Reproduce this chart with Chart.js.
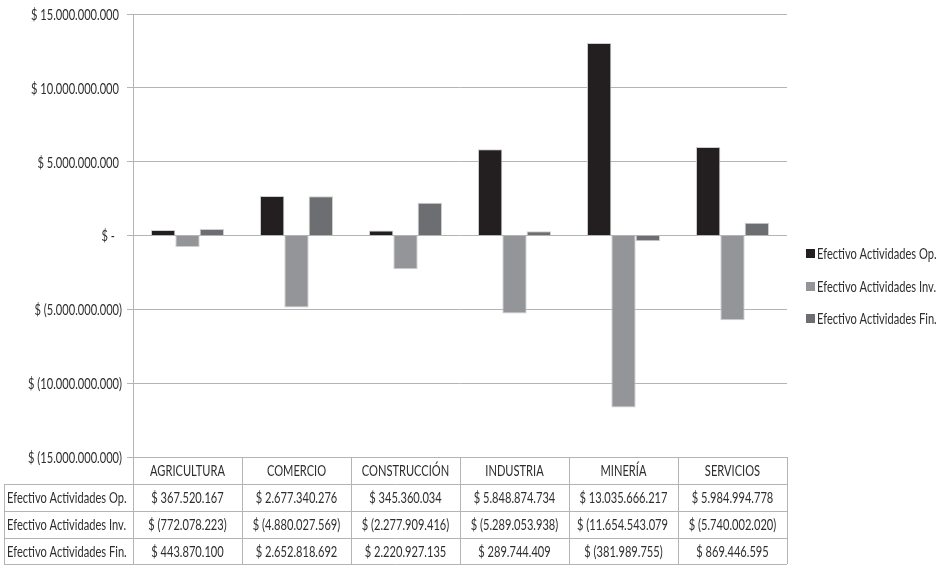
<!DOCTYPE html>
<html>
<head>
<meta charset="utf-8">
<script src="https://cdn.jsdelivr.net/npm/chart.js@4"></script>
<style>
  html, body { margin: 0; padding: 0; background: #fff; }
  #wrap { width: 942px; height: 565px; }
</style>
</head>
<body>
<div id="wrap"><canvas id="myChart" width="942" height="565"></canvas></div>
<script>
const sectors = ['AGRICULTURA', 'COMERCIO', 'CONSTRUCCIÓN', 'INDUSTRIA', 'MINERÍA', 'SERVICIOS'];
const seriesNames = ['Efectivo Actividades Op.', 'Efectivo Actividades Inv.', 'Efectivo Actividades Fin.'];
const opValues = [367520167, 2677340276, 345360034, 5848874734, 13035666217, 5984994778];
const invValues = [-772078223, -4880027569, -2277909416, -5289053938, -11654543079, -5740002020];
const finValues = [443870100, 2652818692, 2220927135, 289744409, -381989755, 869446595];
const yTicks = [-15000000000, -10000000000, -5000000000, 0, 5000000000, 10000000000, 15000000000];

const colors = ['#231f20', '#939598', '#6d6e71'];
const FONT = '15px Lato, "Open Sans", sans-serif';
const textColor = '#2e2e2e';
const lineColor = '#b4b4b4';

// money in the sheet's style: dots for thousands, negatives in brackets
function money(v) {
    if (v === 0) return '$ -';
    const s = Math.abs(v).toString().replace(/\B(?=(\d{3})+(?!\d))/g, '.');
    return v < 0 ? '$ (' + s + ')' : '$ ' + s;
}

// narrow text: squeeze the face horizontally
let squeeze = 1;
function text(ctx, str, x, y, align) {
    ctx.save();
    ctx.translate(x, y);
    ctx.scale(squeeze, 1);
    ctx.textAlign = align;
    ctx.fillText(str, 0, 0);
    ctx.restore();
}

// y labels, data table under the plot and the legend on the right
const tablePlugin = {
    id: 'dataTable',
    afterDraw(chart) {
        const ctx = chart.ctx;
        const area = chart.chartArea;
        const x = chart.scales.x;
        const y = chart.scales.y;
        const colW = (area.right - area.left) / sectors.length;
        const rows = [area.bottom, 484, 511, 538, 564];
        const leftX = 4;
        const pad = 8;

        ctx.save();
        ctx.font = FONT;
        squeeze = 88 / ctx.measureText('$ 15.000.000.000').width;
        ctx.fillStyle = textColor;
        ctx.textBaseline = 'middle';

        y.ticks.forEach(t => {
            const py = y.getPixelForValue(t.value) + 1;
            const right = t.value === 0 ? 115 : (t.value < 0 ? 122 : 119);
            text(ctx, money(t.value), right, py, 'right');
        });

        ctx.strokeStyle = lineColor;
        ctx.lineWidth = 1;
        ctx.beginPath();
        ctx.moveTo(area.left, rows[0] + 0.5); ctx.lineTo(area.right, rows[0] + 0.5);
        for (let r = 1; r < rows.length; r++) {
            ctx.moveTo(leftX, rows[r] + 0.5); ctx.lineTo(area.right, rows[r] + 0.5);
        }
        for (let c = 0; c <= sectors.length; c++) {
            const cx = Math.round(area.left + c * colW) + 0.5;
            ctx.moveTo(cx, rows[0]); ctx.lineTo(cx, rows[rows.length - 1]);
        }
        ctx.moveTo(leftX + 0.5, rows[1]); ctx.lineTo(leftX + 0.5, rows[rows.length - 1]);
        ctx.stroke();

        sectors.forEach((s, i) => {
            text(ctx, s, x.getPixelForValue(i), (rows[0] + rows[1]) / 2 + 1, 'center');
        });

        const series = [opValues, invValues, finValues];
        series.forEach((vals, r) => {
            const yMid = (rows[r + 1] + rows[r + 2]) / 2 + 1;
            text(ctx, seriesNames[r], leftX + 3, yMid, 'left');
            vals.forEach((v, i) => {
                const cl = area.left + i * colW;
                const label = money(v);
                const w = ctx.measureText(label).width * squeeze;
                ctx.save();
                ctx.beginPath();
                ctx.rect(cl + 1, rows[r + 1], colW - pad - 3, rows[r + 2] - rows[r + 1]);
                ctx.clip();
                // too wide for the cell: start at the left and let it cut off
                if (w > colW - 2 * pad) {
                    text(ctx, label, cl + pad, yMid, 'left');
                } else {
                    text(ctx, label, x.getPixelForValue(i), yMid, 'center');
                }
                ctx.restore();
            });
        });

        // legend
        const legY = [253, 286, 318];
        seriesNames.forEach((name, i) => {
            ctx.fillStyle = colors[i];
            ctx.fillRect(806, legY[i] - 4, 9, 9);
            ctx.fillStyle = textColor;
            text(ctx, name, 817, legY[i] + 1, 'left');
        });
        ctx.restore();
    }
};

const ctx = document.getElementById('myChart').getContext('2d');
const chart = new Chart(ctx, {
    type: 'bar',
    data: {
        labels: sectors,
        datasets: [
            { label: seriesNames[0], data: opValues, backgroundColor: colors[0] },
            { label: seriesNames[1], data: invValues, backgroundColor: colors[1] },
            { label: seriesNames[2], data: finValues, backgroundColor: colors[2] }
        ].map(d => Object.assign(d, {
            borderColor: '#cfcfcf',
            borderWidth: 1,
            categoryPercentage: 0.67,
            barPercentage: 1
        }))
    },
    options: {
        responsive: false,
        animation: false,
        layout: { padding: { top: 14, right: 155, bottom: 108, left: 0 } },
        plugins: {
            legend: { display: false },
            tooltip: { enabled: false }
        },
        scales: {
            x: { display: false },
            y: {
                min: yTicks[0],
                max: yTicks[yTicks.length - 1],
                afterBuildTicks(scale) {
                    scale.ticks = yTicks.map(v => ({ value: v }));
                },
                afterFit(scale) { scale.width = 133; },
                grid: { color: lineColor, tickColor: lineColor, tickLength: 6 },
                border: { color: lineColor },
                ticks: { display: false }
            }
        }
    },
    plugins: [tablePlugin]
});
</script>
</body>
</html>
